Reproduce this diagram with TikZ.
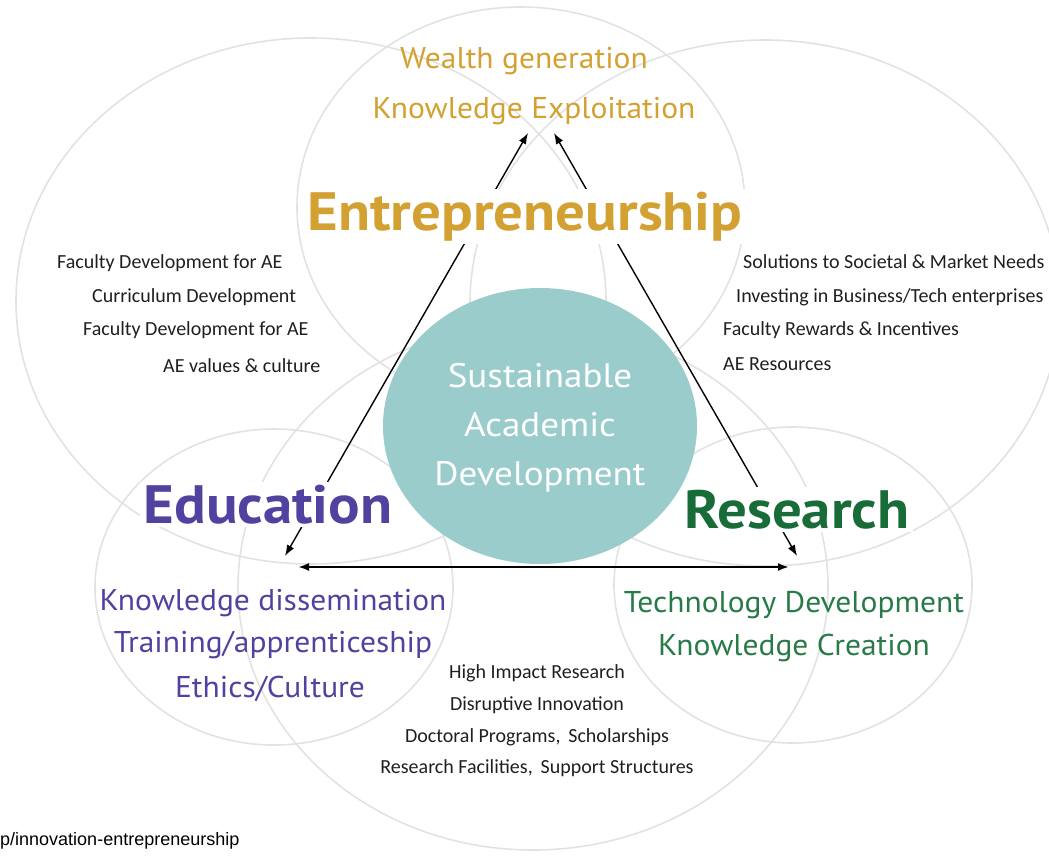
\documentclass[tikz,border=0pt]{standalone}
\usepackage{fontspec}
\setmainfont{PT Sans}
\newfontfamily\itemfont{Carlito}
\newfontfamily\urlfont{Liberation Sans}
\usetikzlibrary{arrows.meta}

\definecolor{entgold}{RGB}{211,160,50}
\definecolor{edupurple}{RGB}{80,66,158}
\definecolor{resgreen}{RGB}{24,108,56}
\definecolor{subgreen}{RGB}{40,122,72}
\definecolor{tealfill}{RGB}{155,204,204}
\definecolor{ringgray}{RGB}{226,226,226}

\begin{document}
\begin{tikzpicture}[x=1pt,y=-1pt,
    ring/.style={draw=ringgray, line width=1.6pt},
    link/.style={{Latex[length=11pt,width=8pt]}-{Latex[length=11pt,width=8pt]}, line width=1.4pt},
    headlabel/.style={font=\bfseries\fontsize{54}{60}\selectfont, fill=white, inner sep=3pt, anchor=base, xscale=1.09},
    sublabel/.style={font=\fontsize{30}{36}\selectfont, anchor=base, xscale=1.05},
    itemtext/.style={font=\itemfont\fontsize{20}{24}\selectfont, text=black!88, inner sep=0pt}
]
    \useasboundingbox (0,0) rectangle (1049,855);

    % Overlap rings (big)
    \draw[ring] (311,301) ellipse [x radius=295, y radius=263];
    \draw[ring] (765,303) ellipse [x radius=295, y radius=263];
    \draw[ring] (533,587) ellipse [x radius=295, y radius=263];
    % Pillar rings (small)
    \draw[ring] (521,207) ellipse [x radius=224, y radius=200];
    \draw[ring] (274,587) ellipse [x radius=179, y radius=158];
    \draw[ring] (793,585) ellipse [x radius=179, y radius=158];

    % Core
    \fill[tealfill] (540,426) ellipse [x radius=157, y radius=138];
    \node (core) [align=center, text=white, xscale=1.09, font=\fontsize{34}{49}\selectfont] at (540,428)
        {Sustainable\\Academic\\Development};

    % Triangle of links
    \coordinate (eduTip) at (285,556);
    \coordinate (entTipL) at (528,133);
    \coordinate (entTipR) at (554,133);
    \coordinate (resTip) at (797,556);
    \coordinate (eduEnd) at (298,567);
    \coordinate (resEnd) at (789,567);
    \draw[link] (eduTip) -- (entTipL);
    \draw[link] (resTip) -- (entTipR);
    \draw[link, line width=2pt] (eduEnd) -- (resEnd);

    % Pillars
    \node (ent) [headlabel, text=entgold] at (525,230) {Entrepreneurship};
    \node (edu) [headlabel, text=edupurple] at (268,523) {Education};
    \node (res) [headlabel, text=resgreen] at (797,528) {Research};

    % Outputs of each pillar
    \node (wealth) [sublabel, text=entgold] at (524,68) {Wealth generation};
    \node (exploit) [sublabel, text=entgold] at (534,118) {Knowledge Exploitation};
    \node (dissem) [sublabel, text=edupurple] at (273,610) {Knowledge dissemination};
    \node (training) [sublabel, text=edupurple] at (273,652) {Training/apprenticeship};
    \node (ethics) [sublabel, text=edupurple] at (270,697) {Ethics/Culture};
    \node (techdev) [sublabel, text=subgreen] at (794,612) {Technology Development};
    \node (creation) [sublabel, text=subgreen] at (794,655) {Knowledge Creation};

    % Overlap items, left
    \node (ul1) [itemtext, anchor=base west] at (57,268) {Faculty Development for AE};
    \node (ul2) [itemtext, anchor=base west] at (92,302) {Curriculum Development};
    \node (ul3) [itemtext, anchor=base west] at (83,335) {Faculty Development for AE};
    \node (ul4) [itemtext, anchor=base west] at (163,372) {AE values \& culture};
    % Overlap items, right
    \node (ur1) [itemtext, anchor=base west] at (743,268) {Solutions to Societal \& Market Needs};
    \node (ur2) [itemtext, anchor=base west] at (736,302) {Investing in Business/Tech enterprises};
    \node (ur3) [itemtext, anchor=base west] at (723,335) {Faculty Rewards \& Incentives};
    \node (ur4) [itemtext, anchor=base west] at (723,370) {AE Resources};
    % Overlap items, bottom
    \node (bt1) [itemtext, anchor=base] at (537,678) {High Impact Research};
    \node (bt2) [itemtext, anchor=base] at (537,710) {Disruptive Innovation};
    \node (bt3) [itemtext, anchor=base] at (537,742) {Doctoral Programs,\, Scholarships};
    \node (bt4) [itemtext, anchor=base] at (537,773) {Research Facilities,\, Support Structures};

    % Source line
    \node (src) [anchor=base west, inner sep=0pt, font=\urlfont\fontsize{18}{20}\selectfont] at (0,845) {p/innovation-entrepreneurship};
\end{tikzpicture}
\end{document}
